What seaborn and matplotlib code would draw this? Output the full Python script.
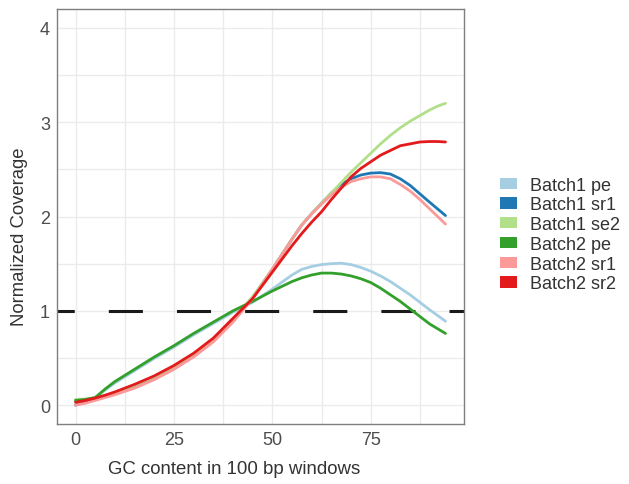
import numpy as np
import pandas as pd
import matplotlib
matplotlib.use("Agg")
import matplotlib.pyplot as plt
from matplotlib.patches import Patch
import seaborn as sns

gc = [0, 2.5, 5, 7.5, 10, 15, 20, 25, 30, 35, 40, 45, 50, 55, 57.5, 60, 62.5, 65,
      67.5, 70, 72.5, 75, 77.5, 80, 82.5, 85, 87.5, 90, 92, 94]

batch1_pe = [0.04, 0.05, 0.08, 0.16, 0.235, 0.365, 0.495, 0.615, 0.745, 0.865, 0.985, 1.09, 1.23, 1.38,
             1.44, 1.47, 1.49, 1.50, 1.505, 1.49, 1.46, 1.42, 1.37, 1.31, 1.24, 1.17, 1.09, 1.01, 0.95, 0.89]
batch1_sr1 = [0.00, 0.03, 0.06, 0.09, 0.12, 0.20, 0.29, 0.40, 0.53, 0.69, 0.90, 1.14, 1.44, 1.76,
              1.91, 2.03, 2.14, 2.25, 2.34, 2.40, 2.44, 2.46, 2.465, 2.45, 2.40, 2.33, 2.24, 2.15, 2.08, 2.01]
batch1_se2 = [0.06, 0.065, 0.08, 0.10, 0.13, 0.21, 0.30, 0.41, 0.54, 0.70, 0.91, 1.15, 1.44, 1.76,
              1.91, 2.03, 2.14, 2.25, 2.36, 2.47, 2.57, 2.67, 2.77, 2.86, 2.94, 3.01, 3.07, 3.13, 3.17, 3.20]
batch2_pe = [0.05, 0.06, 0.08, 0.17, 0.25, 0.38, 0.51, 0.63, 0.76, 0.88, 1.00, 1.10, 1.21, 1.31,
             1.35, 1.38, 1.40, 1.40, 1.39, 1.37, 1.34, 1.30, 1.24, 1.17, 1.10, 1.02, 0.94, 0.86, 0.81, 0.76]
batch2_sr1 = [0.00, 0.02, 0.05, 0.08, 0.11, 0.18, 0.27, 0.38, 0.51, 0.67, 0.88, 1.13, 1.44, 1.76,
              1.91, 2.03, 2.13, 2.23, 2.31, 2.37, 2.40, 2.42, 2.42, 2.40, 2.34, 2.27, 2.18, 2.08, 2.00, 1.92]
batch2_sr2 = [0.03, 0.05, 0.075, 0.105, 0.14, 0.22, 0.31, 0.42, 0.55, 0.71, 0.92, 1.13, 1.41, 1.69,
              1.82, 1.94, 2.05, 2.18, 2.30, 2.42, 2.51, 2.58, 2.65, 2.70, 2.75, 2.77, 2.79, 2.795, 2.795, 2.79]

series_names = ["Batch1 pe", "Batch1 sr1", "Batch1 se2", "Batch2 pe", "Batch2 sr1", "Batch2 sr2"]
series_values = [batch1_pe, batch1_sr1, batch1_se2, batch2_pe, batch2_sr1, batch2_sr2]
colors = ["#A6CEE3", "#1F78B4", "#B2DF8A", "#33A02C", "#FB9A99", "#E31A1C"]

x_ticks = [0, 25, 50, 75]
y_ticks = [0, 1, 2, 3, 4]
ref_level = 1

rows = []
for name, vals in zip(series_names, series_values):
    for x, v in zip(gc, vals):
        rows.append({"gc": x, "cov": v, "sample": name})
df = pd.DataFrame(rows)

sns.set_theme(style="white")
plt.rcParams["font.family"] = ["Liberation Sans", "DejaVu Sans"]

fig = plt.figure(figsize=(6.29, 4.85), dpi=100)
ax = fig.add_axes([57 / 629, 60 / 485, (464 - 57) / 629, (425 - 10) / 485])

xmin, xmax = -4.7, 98.7
ymin, ymax = -0.2, 4.2

# grid
grid_col = "#EBEBEB"
for gx in np.arange(0, 100, 12.5):
    ax.axvline(gx, color=grid_col, lw=1.0, zorder=0)
for gy in np.arange(0, 4.01, 0.5):
    ax.axhline(gy, color=grid_col, lw=1.0, zorder=0)

ax.plot([xmin, xmax], [ref_level, ref_level], color="#1a1a1a", lw=2.2,
        linestyle=(5.5, (11.15, 11.15)), zorder=1, dash_capstyle="butt")

sns.lineplot(data=df, x="gc", y="cov", hue="sample", hue_order=series_names,
             palette=colors, linewidth=2.0, ax=ax, legend=False, zorder=2)
for ln in ax.get_lines():
    ln.set_solid_joinstyle("round")

ax.set_xlim(xmin, xmax)
ax.set_ylim(ymin, ymax)
ax.set_xticks(x_ticks)
ax.set_yticks(y_ticks)
ax.tick_params(axis="both", length=0, labelsize=13, labelcolor="#4D4D4D", pad=5)
ax.set_xlabel("GC content in 100 bp windows", fontsize=13.4, color="#333333")
ax.set_ylabel("Normalized Coverage", fontsize=13.3, color="#333333")
ax.xaxis.set_label_coords(0.434, -0.119)
ax.xaxis.label.set_va("baseline")
ax.yaxis.set_label_coords(-0.0713, 0.454)
ax.yaxis.label.set_va("bottom")
ax.grid(False)
for s in ax.spines.values():
    s.set_color("#7F7F7F")
    s.set_linewidth(1.0)

handles = [Patch(facecolor=c, edgecolor="none", label=n) for c, n in zip(colors, series_names)]
leg = fig.legend(handles=handles, loc="center left", bbox_to_anchor=(500 / 629, 1 - 235.5 / 485),
                 frameon=False, fontsize=13, handlelength=0.94, handleheight=0.59,
                 handletextpad=0.72, labelspacing=0.15, borderaxespad=0, borderpad=0)
for t in leg.get_texts():
    t.set_color("#333333")

fig.savefig("out.png", dpi=100)
